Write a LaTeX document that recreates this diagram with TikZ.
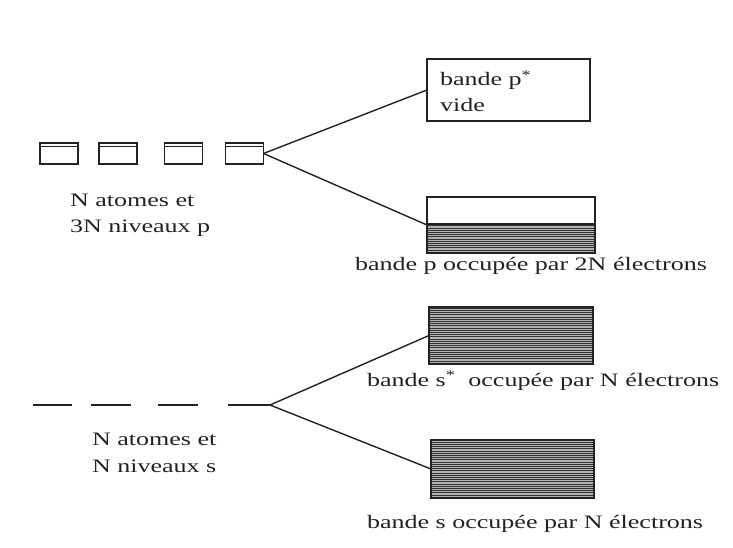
\documentclass[tikz,border=0pt]{standalone}
\usepackage{fontspec}
\setmainfont{Liberation Serif}[FakeStretch=1.37]
\definecolor{ink}{HTML}{222222}
\begin{document}
\begin{tikzpicture}[x=1pt,y=-1pt,
  every node/.style={inner sep=0pt, outer sep=0pt},
  lbl/.style={text=ink, font=\fontsize{19}{26.5}\selectfont, align=left, anchor=base west},
  conn/.style={draw=ink, line width=1.4pt},
  atombox/.style={draw=ink, line width=1.2pt, minimum width=38pt, minimum height=21pt,
    path picture={\draw[ink, line width=1pt] ([yshift=-4pt]path picture bounding box.north west) -- ([yshift=-4pt]path picture bounding box.north east);}},
  emptyband/.style={draw=ink, line width=1.3pt, minimum width=#1},
  hatch/.style={path picture={
    \fill[gray!60] (path picture bounding box.south west) rectangle ([yshift=#1]path picture bounding box.south east);
    \begin{scope}
      \clip (path picture bounding box.south west) rectangle ([yshift=#1]path picture bounding box.south east);
      \foreach \i in {0,...,30} {
        \draw[black!80, line width=0.7pt] ([yshift=\i*2.2pt+0.8pt]path picture bounding box.south west) -- ([yshift=\i*2.2pt+0.8pt]path picture bounding box.south east);
      }
    \end{scope}
    \draw[ink, line width=1.2pt] ([yshift=#1]path picture bounding box.south west) -- ([yshift=#1]path picture bounding box.south east);
  }},
  dashseg/.style={draw=ink, line width=2.2pt}
]
\useasboundingbox (0,0) rectangle (733,548);

% p levels
\node[atombox] (p1) at (59,153.5) {};
\node[atombox] (p2) at (118,153.5) {};
\node[atombox] (p3) at (183.5,153.5) {};
\node[atombox] (p4) at (244.5,153.5) {};
\node[lbl] (plab) at (70,233) {N atomes et\\3N niveaux p};

% p bands
\node[emptyband, minimum width=163pt, minimum height=62pt] (pstar) at (508.5,90) {};
\node[lbl] (pstart) at (440,112) {bande p\textsuperscript{*}\\vide};
\node[emptyband, minimum width=168pt, minimum height=56pt, hatch=29pt] (pband) at (511,225) {};
\node[lbl] (pbandt) at (355,270) {bande p occupée par 2N électrons};
\draw[conn] (p4.east) -- (pstar.west);
\draw[conn] (p4.east) -- (pband.west);

% s levels
\draw[dashseg] (33,405) -- (72,405);
\draw[dashseg] (91,405) -- (131,405);
\draw[dashseg] (158,405) -- (198,405);
\coordinate (s0) at (270,405);
\draw[dashseg] (228,405) -- (s0);
\node[lbl] (slab) at (92,472) {N atomes et\\N niveaux s};

% s bands
\node[emptyband, minimum width=164pt, minimum height=57pt, hatch=57pt] (sstar) at (511,335.5) {};
\node[lbl] (sstart) at (367,386) {bande s\textsuperscript{*}\ \ occupée par N électrons};
\node[emptyband, minimum width=163pt, minimum height=58pt, hatch=58pt] (sband) at (512.5,469) {};
\node[lbl] (sbandt) at (367,528) {bande s occupée par N électrons};
\draw[conn] (s0) -- (sstar.west);
\draw[conn] (s0) -- (sband.west);
\end{tikzpicture}
\end{document}
